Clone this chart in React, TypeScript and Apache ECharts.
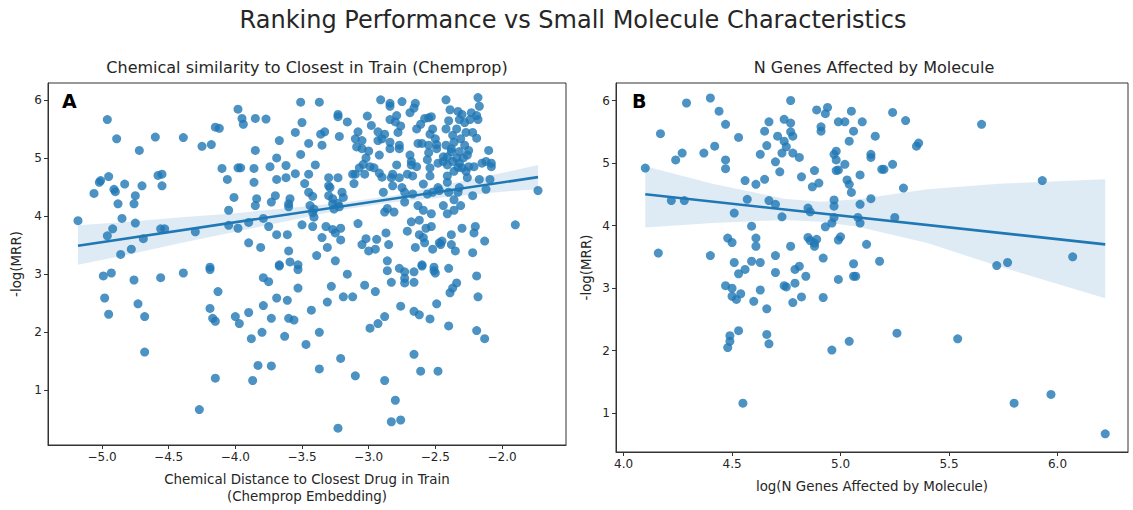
import React, { useEffect, useRef } from "react";
import * as echarts from "echarts";

const FONT = "DejaVu Sans";
const BLUE = "#1f77b4";

const suptitle = "Ranking Performance vs Small Molecule Characteristics";
const leftTitle = "Chemical similarity to Closest in Train (Chemprop)";
const rightTitle = "N Genes Affected by Molecule";
const leftXName = "Chemical Distance to Closest Drug in Train\n(Chemprop Embedding)";
const rightXName = "log(N Genes Affected by Molecule)";
const yName = "-log(MRR)";

const leftXTicks = [-5.0, -4.5, -4.0, -3.5, -3.0, -2.5, -2.0];
const rightXTicks = [4.0, 4.5, 5.0, 5.5, 6.0];
const yTicks = [1, 2, 3, 4, 5, 6];

// Panel A: chemical distance vs -log(MRR)
const distanceVsMrr: number[][] = [
  [-5.18,3.92],[-5.06,4.39],[-5.01,4.61],[-5.02,4.58],[-4.96,5.66],[-4.95,4.68],[-4.91,4.46],[-4.90,4.42],[-4.89,5.33],[-4.88,4.21],
  [-4.96,3.66],[-4.92,3.78],[-4.85,3.96],[-4.86,3.34],[-4.83,4.55],[-4.78,3.43],[-4.76,4.21],[-4.75,4.35],[-4.72,5.13],[-4.70,4.52],
  [-4.69,3.61],[-4.75,3.88],[-4.60,5.36],[-4.58,4.70],[-4.55,4.72],[-4.55,4.52],[-4.56,3.78],[-4.53,3.78],[-4.39,5.35],[-4.30,3.73],
  [-4.25,5.20],[-4.18,5.23],[-4.15,5.53],[-4.12,5.51],[-4.19,3.12],
  [-4.99,2.97],[-4.93,3.02],[-4.98,2.59],[-4.95,2.31],[-4.76,2.90],[-4.73,2.49],[-4.68,2.27],[-4.68,1.66],[-4.56,2.94],[-4.39,3.02],
  [-4.27,0.67],[-4.19,3.08],[-4.19,2.41],[-4.17,2.24],[-4.15,2.19],[-4.13,2.70],[-4.15,1.21],[-4.00,2.27],[-3.97,2.15],[-3.90,2.34],
  [-3.88,1.89],[-3.87,1.17],[-3.83,1.43],[-3.80,2.00],[-3.79,2.46],[-3.79,2.94],[-3.75,2.87],[-3.73,1.42],[-3.73,2.24],[-3.69,2.59],
  [-3.67,3.14],[-3.63,1.93],[-3.61,2.55],[-3.60,2.24],[-3.56,2.21],[-3.53,3.08],[-3.53,2.76],[-3.47,1.79],[-3.43,2.38],[-3.37,2.00],
  [-3.37,1.37],[-3.31,2.52],[-3.28,2.79],[-3.23,0.35],[-3.21,1.55],[-3.19,2.61],[-3.16,3.00],[-3.12,2.61],[-3.10,1.25],[-3.03,2.81],
  [-2.99,2.07],[-2.95,2.70],[-2.93,2.15],[-2.88,2.27],[-2.88,1.17],[-2.86,3.06],[-2.83,2.86],[-2.83,0.46],[-2.80,0.83],[-2.77,3.10],
  [-2.76,2.45],[-2.76,0.49],[-2.73,2.93],[-2.73,2.85],[-2.73,3.04],[-2.66,2.86],[-2.66,3.04],[-2.66,2.36],[-2.66,1.62],[-2.62,2.30],
  [-2.61,1.33],[-2.60,3.14],[-2.54,2.23],[-2.51,3.06],[-2.50,3.02],[-2.49,2.49],[-2.48,1.33],[-2.40,3.10],[-2.40,2.11],[-2.39,2.68],
  [-2.37,2.76],[-2.34,2.85],[-2.19,2.97],[-2.19,2.03],[-2.18,2.61],[-2.13,1.89],
  [-4.10,4.82],[-4.06,4.63],[-4.05,3.84],[-4.05,4.10],[-4.01,4.32],[-3.98,5.84],[-3.95,5.68],[-3.94,5.58],[-3.98,4.83],[-3.96,4.83],
  [-3.98,3.79],[-3.90,3.54],[-3.90,3.89],[-3.86,4.82],[-3.85,5.68],[-3.85,5.13],[-3.86,4.58],[-3.84,4.30],[-3.85,4.18],[-3.81,3.46],
  [-3.79,3.96],[-3.77,5.67],[-3.75,3.82],[-3.74,4.85],[-3.73,4.24],[-3.69,5.00],[-3.69,4.63],[-3.70,4.35],[-3.69,3.68],[-3.67,5.30],
  [-3.67,3.16],[-3.62,4.87],[-3.62,4.66],[-3.61,3.68],[-3.60,3.40],[-3.60,4.21],[-3.60,4.16],[-3.59,4.30],[-3.59,3.21],[-3.55,5.44],
  [-3.55,4.73],[-3.53,3.16],[-3.51,5.06],[-3.50,5.61],[-3.51,5.96],[-3.50,3.85],[-3.48,4.56],[-3.45,5.25],[-3.45,4.72],[-3.45,4.41],
  [-3.44,4.18],[-3.42,4.06],[-3.42,4.34],[-3.41,4.12],[-3.42,3.82],[-3.41,3.98],[-3.40,4.88],[-3.39,3.32],[-3.37,5.96],[-3.36,5.41],
  [-3.35,5.22],[-3.35,3.63],[-3.33,5.45],[-3.32,3.82],[-3.31,3.46],[-3.30,4.66],[-3.30,4.52],[-3.30,4.35],[-3.29,4.49],[-3.27,4.30],
  [-3.27,4.21],[-3.26,4.12],[-3.27,3.77],[-3.25,3.71],[-3.25,3.23],[-3.23,5.75],[-3.23,5.71],[-3.22,5.37],[-3.23,4.66],[-3.23,4.22],
  [-3.22,4.16],[-3.21,3.79],[-3.21,3.59],[-3.20,4.41],[-3.19,4.32],[-3.16,5.62],[-3.12,4.72],[-3.11,4.56],[-3.10,4.72],[-3.10,5.33],
  [-3.09,5.19],[-3.08,5.45],[-3.08,3.87],[-3.07,4.83],[-3.05,5.16],[-3.05,5.30],[-3.05,3.51],[-3.04,4.89],[-3.03,4.72],[-3.02,5.00],
  [-3.02,3.61],[-3.01,5.72],[-3.00,3.40],[-3.00,5.12],[-2.99,4.85],[-2.98,5.56],[-2.96,4.83],[-2.95,3.43],[-2.94,3.60],[-2.93,5.30],
  [-2.93,5.45],[-2.92,5.05],[-2.92,4.74],[-2.91,6.00],[-2.90,5.33],[-2.90,4.67],[-2.89,4.41],[-2.88,5.41],[-2.88,4.07],[-2.87,3.71],
  [-2.86,4.13],[-2.86,3.23],[-2.85,3.51],[-2.84,5.94],[-2.84,5.89],[-2.84,5.66],[-2.84,5.27],[-2.84,5.16],[-2.83,4.66],[-2.82,4.52],
  [-2.82,4.72],[-2.81,4.07],[-2.80,5.62],[-2.79,5.73],[-2.79,4.88],[-2.78,5.44],[-2.77,5.22],[-2.77,5.16],[-2.77,4.66],[-2.76,5.55],
  [-2.75,5.97],[-2.75,4.49],[-2.73,4.41],[-2.73,4.24],[-2.71,4.72],[-2.71,3.74],[-2.69,5.78],[-2.69,5.05],[-2.68,4.94],[-2.68,4.88],
  [-2.68,3.90],[-2.67,4.69],[-2.67,4.38],[-2.66,5.86],[-2.65,5.94],[-2.65,3.46],[-2.64,5.50],[-2.64,4.85],[-2.63,5.25],[-2.63,4.18],
  [-2.62,3.68],[-2.62,3.93],[-2.61,5.58],[-2.60,5.25],[-2.60,3.16],[-2.59,4.10],[-2.59,4.55],[-2.59,3.63],[-2.58,5.68],[-2.58,3.54],
  [-2.57,3.79],[-2.56,4.97],[-2.56,4.38],[-2.55,5.09],[-2.55,5.69],[-2.55,5.22],[-2.54,5.41],[-2.54,4.83],[-2.54,4.69],[-2.53,3.82],
  [-2.53,4.04],[-2.53,5.71],[-2.52,5.50],[-2.52,4.41],[-2.52,3.43],[-2.51,3.12],[-2.50,5.33],[-2.49,5.16],[-2.49,5.23],[-2.48,4.91],
  [-2.48,4.49],[-2.47,3.54],[-2.47,4.44],[-2.46,3.51],[-2.45,3.57],[-2.44,5.02],[-2.44,4.94],[-2.44,4.18],[-2.42,6.00],[-2.42,5.50],
  [-2.42,5.22],[-2.41,5.02],[-2.41,4.88],[-2.41,4.58],[-2.41,4.69],[-2.41,4.04],[-2.40,5.64],[-2.40,4.41],[-2.39,5.83],[-2.38,3.68],
  [-2.38,3.51],[-2.38,5.16],[-2.38,5.11],[-2.37,5.39],[-2.37,4.94],[-2.36,5.27],[-2.36,4.77],[-2.36,4.28],[-2.36,4.10],[-2.35,3.40],
  [-2.34,5.50],[-2.34,5.00],[-2.33,5.80],[-2.33,4.84],[-2.33,4.41],[-2.32,5.66],[-2.32,5.11],[-2.32,4.91],[-2.32,4.49],[-2.31,5.33],
  [-2.31,4.18],[-2.30,5.75],[-2.30,4.83],[-2.30,3.79],[-2.29,5.00],[-2.28,5.61],[-2.28,5.22],[-2.27,5.44],[-2.27,4.77],[-2.26,4.66],
  [-2.26,5.05],[-2.25,5.13],[-2.25,4.85],[-2.24,5.66],[-2.23,5.78],[-2.22,5.44],[-2.22,4.35],[-2.22,3.37],[-2.21,4.85],[-2.21,3.71],
  [-2.20,3.82],[-2.19,5.34],[-2.19,5.73],[-2.18,5.66],[-2.18,6.04],[-2.17,5.89],[-2.17,4.63],[-2.15,4.91],[-2.13,3.57],[-2.12,4.46],
  [-2.12,4.94],[-2.10,5.13],[-2.09,4.63],[-2.08,4.91],[-2.08,4.85],[-1.90,3.85],[-1.73,4.44],
];

// Panel A regression fit and confidence band
const leftFit: number[][] = [[-5.18, 3.49], [-1.73, 4.67]];
const leftBandX = [-5.18, -4.8, -4.4, -4.0, -3.6, -3.2, -2.8, -2.4, -2.0, -1.73];
const leftBandLow = [3.16, 3.34, 3.54, 3.73, 3.92, 4.11, 4.24, 4.33, 4.42, 4.46];
const leftBandHigh = [3.84, 3.90, 3.98, 4.05, 4.14, 4.23, 4.36, 4.55, 4.74, 4.88];

// Panel B: log(N genes) vs -log(MRR)
const genesVsMrr: number[][] = [
  [4.10,4.92],[4.17,5.47],[4.16,3.56],[4.22,4.40],[4.24,5.05],[4.27,5.16],[4.28,4.40],[4.29,5.96],[4.37,5.16],[4.40,6.04],
  [4.40,3.52],[4.42,5.27],[4.44,5.83],[4.47,5.62],[4.47,5.05],[4.47,4.91],[4.48,3.80],[4.50,3.73],[4.51,4.20],[4.51,3.41],
  [4.53,5.41],[4.53,3.23],[4.56,4.72],[4.56,3.30],[4.57,4.42],[4.59,3.43],[4.59,3.99],[4.61,3.80],[4.61,3.67],[4.61,4.66],
  [4.63,3.41],[4.63,5.14],[4.65,5.51],[4.66,5.28],[4.65,4.74],[4.67,5.66],[4.67,4.40],[4.70,5.02],[4.70,4.34],[4.70,3.52],
  [4.70,3.25],[4.71,5.43],[4.72,4.86],[4.73,5.16],[4.73,4.14],[4.74,5.70],[4.74,5.35],[4.75,5.26],[4.77,6.00],[4.77,5.64],
  [4.77,5.50],[4.78,5.43],[4.78,5.16],[4.77,3.67],[4.79,3.30],[4.81,3.35],[4.81,5.09],[4.82,4.78],[4.84,3.19],[4.85,4.28],
  [4.85,3.81],[4.86,4.22],[4.86,3.76],[4.87,4.62],[4.88,3.72],[4.88,3.67],[4.88,4.88],[4.89,5.85],[4.89,3.78],[4.90,4.68],
  [4.91,5.58],[4.91,5.51],[4.92,3.48],[4.93,3.98],[4.93,5.79],[4.94,5.89],[4.96,4.04],[4.97,4.41],[4.97,4.31],[4.97,4.13],
  [4.97,5.14],[4.98,5.19],[4.98,5.05],[4.98,4.88],[4.99,4.89],[4.99,3.14],[4.99,5.66],[4.99,3.77],[5.00,3.82],[5.02,5.66],
  [5.02,4.98],[5.03,4.73],[5.04,5.35],[5.04,4.66],[5.05,4.53],[5.05,5.83],[5.06,5.51],[5.06,3.39],[5.06,3.19],[5.07,3.19],
  [5.08,4.13],[5.09,4.81],[5.09,4.04],[5.09,4.34],[5.10,5.66],[5.12,3.70],[5.14,5.09],[5.14,5.14],[5.14,4.43],[5.16,5.43],
  [5.18,3.43],[5.19,4.90],[5.20,4.90],[5.24,5.81],[5.24,4.98],[5.25,4.13],[5.29,4.60],[5.30,5.68],[5.35,5.27],[5.36,5.32],
  [5.65,5.62],[5.72,3.36],[5.77,3.41],[5.93,4.72],[6.07,3.50],
  [4.47,3.04],[4.50,3.00],[4.50,2.87],[4.52,2.82],[4.54,2.91],[4.49,2.24],[4.49,2.15],[4.48,2.05],[4.53,2.32],[4.55,1.16],
  [4.60,2.79],[4.63,2.97],[4.66,2.67],[4.66,2.26],[4.67,2.11],[4.74,3.04],[4.75,3.02],[4.78,2.77],[4.79,3.08],[4.82,2.86],
  [4.92,2.85],[4.96,2.01],[5.04,2.15],[5.26,2.28],[5.54,2.19],[5.80,1.16],[5.97,1.30],[6.22,0.67],
];

// Panel B regression fit and confidence band
const rightFit: number[][] = [[4.10, 4.50], [6.22, 3.70]];
const rightBandX = [4.10, 4.41, 4.74, 4.91, 5.08, 5.40, 5.73, 6.22];
const rightBandLow = [3.97, 4.04, 4.09, 4.06, 3.98, 3.72, 3.35, 2.84];
const rightBandHigh = [4.95, 4.67, 4.43, 4.38, 4.42, 4.58, 4.67, 4.74];

const textColor = "#262626";
const spineColor = "#333333";

function xAxisCfg(gridIndex: number, min: number, max: number, ticks: number[], name: string, minus: boolean) {
  return {
    gridIndex,
    type: "value",
    min,
    max,
    name,
    nameLocation: "middle",
    nameGap: 26,
    nameTextStyle: { fontFamily: FONT, fontSize: 13.4, color: textColor, lineHeight: 17 },
    axisLine: { show: true, onZero: false, lineStyle: { color: spineColor, width: 1 } },
    axisTick: { show: true, customValues: ticks, length: 4, lineStyle: { color: spineColor } },
    axisLabel: {
      customValues: ticks,
      fontFamily: FONT,
      fontSize: 12,
      color: textColor,
      margin: 6,
      formatter: (v: number) => (minus ? v.toFixed(1).replace("-", "\u2212") : v.toFixed(1)),
    },
    splitLine: { show: false },
  };
}

function yAxisCfg(gridIndex: number, min: number, max: number, gap: number) {
  return {
    gridIndex,
    type: "value",
    min,
    max,
    name: yName,
    nameLocation: "middle",
    nameGap: gap,
    nameRotate: 90,
    nameTextStyle: { fontFamily: FONT, fontSize: 13.4, color: textColor },
    axisLine: { show: true, onZero: false, lineStyle: { color: spineColor, width: 1 } },
    axisTick: { show: true, customValues: yTicks, length: 4, lineStyle: { color: spineColor } },
    axisLabel: {
      customValues: yTicks,
      fontFamily: FONT,
      fontSize: 12,
      color: textColor,
      margin: 6,
      formatter: (v: number) => String(Math.round(v)),
    },
    splitLine: { show: false },
  };
}

function bandSeries(axisIndex: number, bx: number[], lo: number[], hi: number[]) {
  return {
    type: "custom",
    xAxisIndex: axisIndex,
    yAxisIndex: axisIndex,
    silent: true,
    z: 3,
    data: [[bx[0], lo[0]]],
    encode: { x: 0, y: 1 },
    renderItem: (_params: any, api: any) => {
      const pts: number[][] = [];
      for (let i = 0; i < bx.length; i++) pts.push(api.coord([bx[i], hi[i]]));
      for (let i = bx.length - 1; i >= 0; i--) pts.push(api.coord([bx[i], lo[i]]));
      return {
        type: "polygon",
        shape: { points: pts },
        style: { fill: "rgba(31,119,180,0.15)", stroke: "none" },
      };
    },
  };
}

function scatterSeries(axisIndex: number, data: number[][]) {
  return {
    type: "scatter",
    xAxisIndex: axisIndex,
    yAxisIndex: axisIndex,
    data,
    symbolSize: 9,
    itemStyle: { color: BLUE, opacity: 0.8 },
    z: 2,
  };
}

function fitSeries(axisIndex: number, data: number[][]) {
  return {
    type: "line",
    xAxisIndex: axisIndex,
    yAxisIndex: axisIndex,
    data,
    showSymbol: false,
    symbol: "none",
    lineStyle: { color: BLUE, width: 2.6 },
    z: 4,
  };
}

export default function App() {
  const ref = useRef<HTMLDivElement>(null);
  useEffect(() => {
    if (!ref.current) return;
    const chart = echarts.init(ref.current, undefined, { renderer: "svg" });
    chart.setOption({
      animation: false,
      backgroundColor: "#ffffff",
      textStyle: { fontFamily: FONT },
      grid: [
        { left: 48, top: 83, width: 518, height: 369, show: true, borderColor: spineColor, borderWidth: 1, backgroundColor: "transparent" },
        { left: 616, top: 83, width: 512, height: 369, show: true, borderColor: spineColor, borderWidth: 1, backgroundColor: "transparent" },
      ],
      xAxis: [
        xAxisCfg(0, -5.405, -1.52, leftXTicks, leftXName, true),
        xAxisCfg(1, 3.965, 6.325, rightXTicks, rightXName, false),
      ],
      yAxis: [yAxisCfg(0, 0.06, 6.29, 25), yAxisCfg(1, 0.38, 6.28, 23)],
      series: [
        scatterSeries(0, distanceVsMrr),
        bandSeries(0, leftBandX, leftBandLow, leftBandHigh),
        fitSeries(0, leftFit),
        scatterSeries(1, genesVsMrr),
        bandSeries(1, rightBandX, rightBandLow, rightBandHigh),
        fitSeries(1, rightFit),
      ],
      graphic: [
        { type: "text", x: 573, y: 20, style: { text: suptitle, fontFamily: FONT, fontSize: 24, fill: textColor, align: "center", verticalAlign: "middle" } },
        { type: "text", x: 307, y: 67, style: { text: leftTitle, fontFamily: FONT, fontSize: 16, fill: textColor, align: "center", verticalAlign: "middle" } },
        { type: "text", x: 874, y: 67, style: { text: rightTitle, fontFamily: FONT, fontSize: 16, fill: textColor, align: "center", verticalAlign: "middle" } },
        { type: "text", x: 62, y: 101, z: 10, style: { text: "A", fontFamily: FONT, fontSize: 19, fontWeight: "bold", fill: "#000", align: "left", verticalAlign: "middle" } },
        { type: "text", x: 632, y: 101, z: 10, style: { text: "B", fontFamily: FONT, fontSize: 19, fontWeight: "bold", fill: "#000", align: "left", verticalAlign: "middle" } },
      ],
    });
    return () => chart.dispose();
  }, []);
  return <div ref={ref} style={{ position: "fixed", left: 0, top: 0, width: 1133, height: 510 }} />;
}
